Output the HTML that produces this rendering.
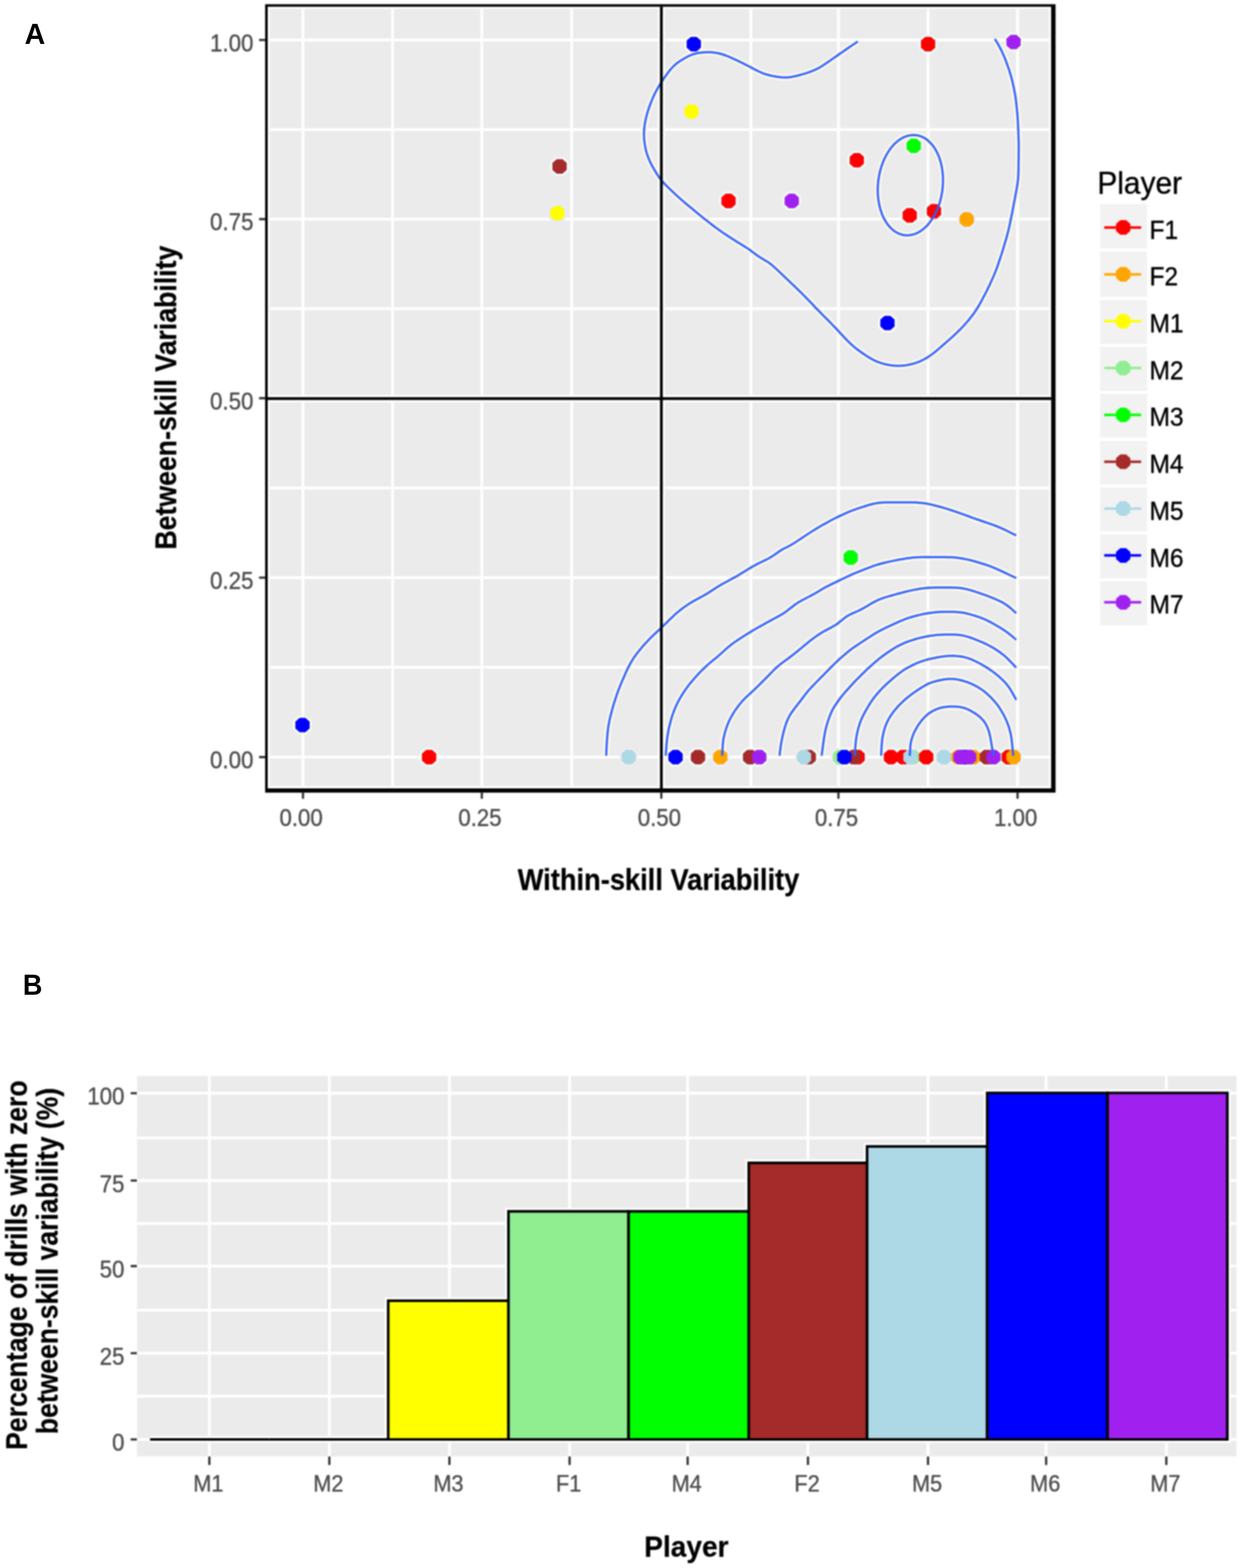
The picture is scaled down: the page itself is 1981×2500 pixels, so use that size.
<!DOCTYPE html>
<html lang="en">
<head>
<meta charset="utf-8">
<title>Figure</title>
<style>html,body{margin:0;padding:0;background:#fff;overflow:hidden}#fig{position:relative;width:1981px;height:2500px;overflow:hidden;background:#fff}#fig svg{display:block;position:absolute;left:0;top:0}#plot{filter:blur(0.9px)}</style>
</head>
<body>
<div id="fig">
<svg id="plot" width="1981" height="2500" viewBox="0 0 1981 2500">
<rect x="-20" y="-20" width="2021" height="2540" fill="#FFFFFF"/>
<g id="panelA">
<rect x="427.0" y="10.8" width="1249.6" height="1246.1" fill="#FFFFFF"/>
<rect x="430.4" y="14.2" width="1242.8" height="1239.0" fill="#EBEBEB"/>
<path d="M483.3 14.2V1253.2M626.1 14.2V1253.2M768.5 14.2V1253.2M911.8 14.2V1253.2M1054.8 14.2V1253.2M1197.7 14.2V1253.2M1337.3 14.2V1253.2M1480.2 14.2V1253.2M1623.0 14.2V1253.2M430.4 1207.1H1673.2M430.4 1063.9H1673.2M430.4 921.0H1673.2M430.4 778.0H1673.2M430.4 634.9H1673.2M430.4 492.2H1673.2M430.4 349.4H1673.2M430.4 206.6H1673.2M430.4 63.8H1673.2" stroke="#FFFFFF" stroke-width="4.4" fill="none"/>
<g fill="none" stroke-linejoin="round">
<polygon points="1102.0,58.8 1111.2,58.8 1118.0,64.8 1118.0,76.0 1111.2,82.0 1102.0,82.0 1095.2,76.0 1095.2,64.8" stroke="#FFFFE9" stroke-width="6.4"/>
<polygon points="1475.7,58.8 1484.9,58.8 1491.7,64.8 1491.7,76.0 1484.9,82.0 1475.7,82.0 1468.9,76.0 1468.9,64.8" stroke="#E9FFFF" stroke-width="6.4"/>
<polygon points="1612.0,55.4 1621.2,55.4 1628.0,61.4 1628.0,72.6 1621.2,78.6 1612.0,78.6 1605.2,72.6 1605.2,61.4" stroke="#F3FFEA" stroke-width="6.4"/>
<polygon points="1098.4,166.2 1107.6,166.2 1114.4,172.2 1114.4,183.4 1107.6,189.4 1098.4,189.4 1091.6,183.4 1091.6,172.2" stroke="#E9E9FF" stroke-width="6.4"/>
<polygon points="1452.8,220.9 1462.0,220.9 1468.8,226.9 1468.8,238.1 1462.0,244.1 1452.8,244.1 1446.0,238.1 1446.0,226.9" stroke="#FFE9FF" stroke-width="6.4"/>
<polygon points="1362.0,243.9 1371.2,243.9 1378.0,249.9 1378.0,261.1 1371.2,267.1 1362.0,267.1 1355.2,261.1 1355.2,249.9" stroke="#E9FFFF" stroke-width="6.4"/>
<polygon points="887.9,253.8 897.1,253.8 903.9,259.8 903.9,271.0 897.1,277.0 887.9,277.0 881.1,271.0 881.1,259.8" stroke="#F3FFFF" stroke-width="6.4"/>
<polygon points="884.4,328.3 893.6,328.3 900.4,334.3 900.4,345.5 893.6,351.5 884.4,351.5 877.6,345.5 877.6,334.3" stroke="#E9E9FF" stroke-width="6.4"/>
<polygon points="1157.4,308.8 1166.6,308.8 1173.4,314.8 1173.4,326.0 1166.6,332.0 1157.4,332.0 1150.6,326.0 1150.6,314.8" stroke="#E9FFFF" stroke-width="6.4"/>
<polygon points="1258.2,308.8 1267.4,308.8 1274.2,314.8 1274.2,326.0 1267.4,332.0 1258.2,332.0 1251.4,326.0 1251.4,314.8" stroke="#F3FFEA" stroke-width="6.4"/>
<polygon points="1446.4,331.7 1455.6,331.7 1462.4,337.7 1462.4,348.9 1455.6,354.9 1446.4,354.9 1439.6,348.9 1439.6,337.7" stroke="#E9FFFF" stroke-width="6.4"/>
<polygon points="1485.1,325.2 1494.3,325.2 1501.1,331.2 1501.1,342.4 1494.3,348.4 1485.1,348.4 1478.3,342.4 1478.3,331.2" stroke="#E9FFFF" stroke-width="6.4"/>
<polygon points="1537.3,338.3 1546.5,338.3 1553.3,344.3 1553.3,355.5 1546.5,361.5 1537.3,361.5 1530.5,355.5 1530.5,344.3" stroke="#E9F3FF" stroke-width="6.4"/>
<polygon points="1410.9,503.4 1420.1,503.4 1426.9,509.4 1426.9,520.6 1420.1,526.6 1410.9,526.6 1404.1,520.6 1404.1,509.4" stroke="#FFFFE9" stroke-width="6.4"/>
<polygon points="1352.3,877.2 1361.5,877.2 1368.3,883.2 1368.3,894.4 1361.5,900.4 1352.3,900.4 1345.5,894.4 1345.5,883.2" stroke="#FFE9FF" stroke-width="6.4"/>
<polygon points="477.9,1144.4 487.1,1144.4 493.9,1150.4 493.9,1161.6 487.1,1167.6 477.9,1167.6 471.1,1161.6 471.1,1150.4" stroke="#FFFFE9" stroke-width="6.4"/>
<polygon points="679.8,1195.5 689.0,1195.5 695.8,1201.5 695.8,1212.7 689.0,1218.7 679.8,1218.7 673.0,1212.7 673.0,1201.5" stroke="#E9FFFF" stroke-width="6.4"/>
<polygon points="998.2,1195.5 1007.4,1195.5 1014.2,1201.5 1014.2,1212.7 1007.4,1218.7 998.2,1218.7 991.4,1212.7 991.4,1201.5" stroke="#F2EDEC" stroke-width="6.4"/>
<polygon points="1072.9,1195.5 1082.1,1195.5 1088.9,1201.5 1088.9,1212.7 1082.1,1218.7 1072.9,1218.7 1066.1,1212.7 1066.1,1201.5" stroke="#FFFFE9" stroke-width="6.4"/>
<polygon points="1108.7,1195.5 1117.9,1195.5 1124.7,1201.5 1124.7,1212.7 1117.9,1218.7 1108.7,1218.7 1101.9,1212.7 1101.9,1201.5" stroke="#F3FFFF" stroke-width="6.4"/>
<polygon points="1144.3,1195.5 1153.5,1195.5 1160.3,1201.5 1160.3,1212.7 1153.5,1218.7 1144.3,1218.7 1137.5,1212.7 1137.5,1201.5" stroke="#E9F3FF" stroke-width="6.4"/>
<polygon points="1191.8,1195.5 1201.0,1195.5 1207.8,1201.5 1207.8,1212.7 1201.0,1218.7 1191.8,1218.7 1185.0,1212.7 1185.0,1201.5" stroke="#F3FFFF" stroke-width="6.4"/>
<polygon points="1206.4,1195.5 1215.6,1195.5 1222.4,1201.5 1222.4,1212.7 1215.6,1218.7 1206.4,1218.7 1199.6,1212.7 1199.6,1201.5" stroke="#F3FFEA" stroke-width="6.4"/>
<polygon points="1285.4,1195.5 1294.6,1195.5 1301.4,1201.5 1301.4,1212.7 1294.6,1218.7 1285.4,1218.7 1278.6,1212.7 1278.6,1201.5" stroke="#F3FFFF" stroke-width="6.4"/>
<polygon points="1277.8,1195.5 1287.0,1195.5 1293.8,1201.5 1293.8,1212.7 1287.0,1218.7 1277.8,1218.7 1271.0,1212.7 1271.0,1201.5" stroke="#F2EDEC" stroke-width="6.4"/>
<polygon points="1335.2,1195.5 1344.4,1195.5 1351.2,1201.5 1351.2,1212.7 1344.4,1218.7 1335.2,1218.7 1328.4,1212.7 1328.4,1201.5" stroke="#F5EBF5" stroke-width="6.4"/>
<polygon points="1363.3,1195.5 1372.5,1195.5 1379.3,1201.5 1379.3,1212.7 1372.5,1218.7 1363.3,1218.7 1356.5,1212.7 1356.5,1201.5" stroke="#E9FFFF" stroke-width="6.4"/>
<polygon points="1357.4,1195.5 1366.6,1195.5 1373.4,1201.5 1373.4,1212.7 1366.6,1218.7 1357.4,1218.7 1350.6,1212.7 1350.6,1201.5" stroke="#F3FFFF" stroke-width="6.4"/>
<polygon points="1342.2,1195.5 1351.4,1195.5 1358.2,1201.5 1358.2,1212.7 1351.4,1218.7 1342.2,1218.7 1335.4,1212.7 1335.4,1201.5" stroke="#FFFFE9" stroke-width="6.4"/>
<polygon points="1416.5,1195.5 1425.7,1195.5 1432.5,1201.5 1432.5,1212.7 1425.7,1218.7 1416.5,1218.7 1409.7,1212.7 1409.7,1201.5" stroke="#E9FFFF" stroke-width="6.4"/>
<polygon points="1435.9,1195.5 1445.1,1195.5 1451.9,1201.5 1451.9,1212.7 1445.1,1218.7 1435.9,1218.7 1429.1,1212.7 1429.1,1201.5" stroke="#E9FFFF" stroke-width="6.4"/>
<polygon points="1451.1,1195.5 1460.3,1195.5 1467.1,1201.5 1467.1,1212.7 1460.3,1218.7 1451.1,1218.7 1444.3,1212.7 1444.3,1201.5" stroke="#F5EBF5" stroke-width="6.4"/>
<polygon points="1447.6,1195.5 1456.8,1195.5 1463.6,1201.5 1463.6,1212.7 1456.8,1218.7 1447.6,1218.7 1440.8,1212.7 1440.8,1201.5" stroke="#F2EDEC" stroke-width="6.4"/>
<polygon points="1472.7,1195.5 1481.9,1195.5 1488.7,1201.5 1488.7,1212.7 1481.9,1218.7 1472.7,1218.7 1465.9,1212.7 1465.9,1201.5" stroke="#E9FFFF" stroke-width="6.4"/>
<polygon points="1501.0,1195.5 1510.2,1195.5 1517.0,1201.5 1517.0,1212.7 1510.2,1218.7 1501.0,1218.7 1494.2,1212.7 1494.2,1201.5" stroke="#F2EDEC" stroke-width="6.4"/>
<polygon points="1524.0,1195.5 1533.2,1195.5 1540.0,1201.5 1540.0,1212.7 1533.2,1218.7 1524.0,1218.7 1517.2,1212.7 1517.2,1201.5" stroke="#E9F3FF" stroke-width="6.4"/>
<polygon points="1534.3,1195.5 1543.5,1195.5 1550.3,1201.5 1550.3,1212.7 1543.5,1218.7 1534.3,1218.7 1527.5,1212.7 1527.5,1201.5" stroke="#FFFFE9" stroke-width="6.4"/>
<polygon points="1547.8,1195.5 1557.0,1195.5 1563.8,1201.5 1563.8,1212.7 1557.0,1218.7 1547.8,1218.7 1541.0,1212.7 1541.0,1201.5" stroke="#E9F3FF" stroke-width="6.4"/>
<polygon points="1527.3,1195.5 1536.5,1195.5 1543.3,1201.5 1543.3,1212.7 1536.5,1218.7 1527.3,1218.7 1520.5,1212.7 1520.5,1201.5" stroke="#F3FFEA" stroke-width="6.4"/>
<polygon points="1541.3,1195.5 1550.5,1195.5 1557.3,1201.5 1557.3,1212.7 1550.5,1218.7 1541.3,1218.7 1534.5,1212.7 1534.5,1201.5" stroke="#F3FFEA" stroke-width="6.4"/>
<polygon points="1569.4,1195.5 1578.6,1195.5 1585.4,1201.5 1585.4,1212.7 1578.6,1218.7 1569.4,1218.7 1562.6,1212.7 1562.6,1201.5" stroke="#F3FFFF" stroke-width="6.4"/>
<polygon points="1579.9,1195.5 1589.1,1195.5 1595.9,1201.5 1595.9,1212.7 1589.1,1218.7 1579.9,1218.7 1573.1,1212.7 1573.1,1201.5" stroke="#F3FFEA" stroke-width="6.4"/>
<polygon points="1603.4,1195.5 1612.6,1195.5 1619.4,1201.5 1619.4,1212.7 1612.6,1218.7 1603.4,1218.7 1596.6,1212.7 1596.6,1201.5" stroke="#F5EBF5" stroke-width="6.4"/>
<polygon points="1604.5,1195.5 1613.7,1195.5 1620.5,1201.5 1620.5,1212.7 1613.7,1218.7 1604.5,1218.7 1597.7,1212.7 1597.7,1201.5" stroke="#E9FFFF" stroke-width="6.4"/>
<polygon points="1612.0,1195.5 1621.2,1195.5 1628.0,1201.5 1628.0,1212.7 1621.2,1218.7 1612.0,1218.7 1605.2,1212.7 1605.2,1201.5" stroke="#E9F3FF" stroke-width="6.4"/>
<path d="M1368.1 66.2L1363.1 69.6L1358.1 72.9L1353.2 76.3L1348.2 79.7L1343.3 83.1L1338.4 86.5L1333.5 90.0L1328.6 93.4L1323.6 96.9L1318.7 100.3L1313.7 103.6L1308.7 106.8L1303.5 109.7L1298.1 112.2L1292.5 114.3L1286.9 116.3L1281.1 118.1L1275.4 119.7L1269.6 121.2L1263.7 122.4L1257.9 123.3L1252.0 123.6L1246.1 123.3L1240.2 122.6L1234.3 121.6L1228.4 120.3L1222.6 118.8L1217.0 116.9L1211.5 114.5L1206.2 111.9L1200.9 109.1L1195.6 106.3L1190.2 103.6L1184.9 100.9L1179.5 98.2L1174.1 95.7L1168.6 93.1L1163.1 90.7L1157.6 88.5L1151.9 86.5L1146.2 85.0L1140.4 83.9L1134.5 83.3L1128.5 83.2L1122.6 83.4L1116.6 84.0L1110.8 85.0L1105.1 86.6L1099.7 88.8L1094.5 91.5L1089.3 94.5L1084.3 97.6L1079.4 101.0L1075.0 104.9L1070.9 109.1L1067.1 113.7L1063.5 118.5L1060.0 123.4L1056.7 128.4L1053.4 133.4L1050.3 138.5L1047.3 143.7L1044.5 149.0L1042.0 154.4L1039.7 159.9L1037.5 165.5L1035.4 171.1L1033.5 176.8L1031.8 182.6L1030.3 188.3L1029.1 194.2L1028.1 200.1L1027.5 206.0L1027.1 212.0L1027.2 217.9L1027.6 223.9L1028.4 229.8L1029.4 235.7L1030.7 241.5L1032.5 247.2L1034.6 252.8L1037.0 258.2L1039.7 263.6L1042.6 268.8L1045.7 274.0L1048.8 279.1L1052.3 284.0L1056.0 288.6L1060.0 293.0L1064.2 297.3L1068.5 301.5L1072.8 305.6L1077.2 309.7L1081.6 313.8L1086.1 317.8L1090.6 321.7L1095.2 325.6L1099.8 329.4L1104.5 333.2L1109.1 337.1L1113.7 340.9L1118.3 344.7L1123.0 348.5L1127.7 352.2L1132.5 355.9L1137.2 359.5L1142.0 363.1L1146.9 366.6L1151.8 370.1L1156.8 373.5L1161.8 376.8L1166.8 380.0L1171.9 383.2L1177.0 386.4L1182.1 389.5L1187.2 392.7L1192.2 395.9L1197.1 399.4L1201.9 402.9L1206.7 406.5L1211.6 409.8L1216.7 412.9L1221.8 415.9L1226.7 419.1L1231.4 422.7L1235.9 426.7L1240.3 430.7L1244.7 434.9L1249.0 439.0L1253.4 443.2L1257.7 447.3L1262.0 451.4L1266.4 455.6L1270.7 459.8L1275.0 463.9L1279.3 468.1L1283.5 472.4L1287.7 476.7L1291.9 481.0L1296.0 485.3L1300.1 489.7L1304.3 494.0L1308.5 498.3L1312.7 502.6L1316.9 506.8L1321.2 511.1L1325.4 515.4L1329.6 519.7L1333.7 524.0L1337.8 528.4L1341.9 532.8L1346.0 537.2L1350.1 541.5L1354.3 545.8L1358.7 549.9L1363.2 553.8L1367.9 557.5L1372.8 561.0L1377.7 564.5L1382.7 567.7L1387.8 570.9L1393.0 573.8L1398.4 576.3L1403.9 578.4L1409.6 580.1L1415.4 581.5L1421.3 582.5L1427.2 583.1L1433.2 583.3L1439.1 583.0L1445.0 582.4L1450.9 581.3L1456.7 579.9L1462.4 578.1L1467.9 575.9L1473.2 573.3L1478.4 570.4L1483.4 567.1L1488.3 563.6L1492.9 559.9L1497.5 556.0L1502.0 552.1L1506.5 548.1L1511.0 544.2L1515.5 540.2L1520.0 536.2L1524.4 532.1L1528.7 527.9L1532.9 523.7L1537.1 519.4L1541.1 514.9L1545.0 510.4L1548.7 505.7L1552.4 500.9L1555.8 496.0L1559.0 491.0L1562.1 485.8L1565.0 480.6L1567.8 475.3L1570.6 470.0L1573.4 464.7L1576.0 459.3L1578.6 453.9L1581.1 448.4L1583.6 442.9L1586.0 437.4L1588.2 431.9L1590.3 426.3L1592.3 420.6L1594.2 414.9L1596.1 409.2L1598.0 403.5L1599.8 397.8L1601.5 392.1L1603.2 386.3L1604.9 380.5L1606.5 374.7L1608.0 368.9L1609.4 363.1L1610.7 357.3L1611.9 351.4L1613.1 345.5L1614.3 339.6L1615.5 333.7L1616.6 327.8L1617.7 321.9L1618.8 316.0L1619.9 310.1L1621.0 304.2L1622.0 298.3L1623.0 292.4L1623.7 286.5L1624.2 280.5L1624.4 274.5L1624.6 268.5L1624.6 262.5L1624.7 256.5L1624.8 250.5L1624.8 244.5L1624.9 238.5L1624.9 232.5L1624.8 226.5L1624.6 220.5L1624.4 214.5L1624.2 208.5L1623.9 202.6L1623.7 196.6L1623.3 190.6L1622.9 184.6L1622.4 178.6L1621.8 172.6L1621.2 166.7L1620.5 160.7L1619.7 154.8L1618.7 148.9L1617.6 143.0L1616.4 137.1L1615.1 131.2L1613.7 125.4L1612.0 119.6L1610.3 113.9L1608.4 108.2L1606.4 102.6L1604.3 96.9L1602.1 91.4L1599.7 85.9L1597.2 80.4L1594.5 75.1L1591.6 69.9L1588.5 64.8L1586.9 62.2 M1460.7 215.5L1457.4 215.3L1454.0 215.4L1450.6 215.9L1447.2 216.7L1443.8 217.9L1440.4 219.4L1437.1 221.2L1433.9 223.4L1430.8 225.8L1427.7 228.6L1424.7 231.6L1421.9 234.9L1419.2 238.4L1416.6 242.3L1414.2 246.3L1412.0 250.5L1409.9 255.0L1408.0 259.6L1406.3 264.3L1404.7 269.2L1403.4 274.2L1402.3 279.3L1401.4 284.4L1400.7 289.7L1400.3 294.9L1400.0 300.1L1400.0 305.3L1400.2 310.5L1400.7 315.6L1401.3 320.6L1402.2 325.5L1403.3 330.3L1404.6 334.9L1406.1 339.4L1407.7 343.6L1409.6 347.7L1411.7 351.5L1413.9 355.1L1416.3 358.5L1418.9 361.5L1421.6 364.3L1424.4 366.8L1427.3 369.0L1430.4 370.8L1433.5 372.4L1436.7 373.6L1440.0 374.5L1443.4 375.0L1446.7 375.2L1450.1 375.1L1453.5 374.6L1456.9 373.7L1460.3 372.6L1463.7 371.1L1467.0 369.3L1470.2 367.1L1473.3 364.7L1476.4 361.9L1479.4 358.9L1482.2 355.6L1484.9 352.0L1487.5 348.2L1489.9 344.2L1492.2 340.0L1494.2 335.5L1496.1 330.9L1497.9 326.2L1499.4 321.3L1500.7 316.3L1501.8 311.2L1502.7 306.0L1503.4 300.8L1503.8 295.6L1504.1 290.4L1504.1 285.2L1503.9 280.0L1503.4 274.9L1502.8 269.9L1501.9 265.0L1500.8 260.2L1499.5 255.6L1498.1 251.1L1496.4 246.9L1494.5 242.8L1492.4 239.0L1490.2 235.4L1487.8 232.0L1485.2 229.0L1482.5 226.2L1479.7 223.7L1476.8 221.5L1473.7 219.6L1470.6 218.1L1467.4 216.9L1464.1 216.0L1460.7 215.5 M966.9 1205.0L967.2 1199.0L967.4 1193.0L967.7 1187.0L968.1 1181.0L968.5 1175.0L969.1 1169.0L969.7 1163.0L970.5 1157.1L971.6 1151.2L972.8 1145.3L974.3 1139.5L975.8 1133.7L977.4 1127.9L979.1 1122.1L980.9 1116.4L982.8 1110.7L984.7 1105.0L986.8 1099.4L989.0 1093.8L991.3 1088.2L993.7 1082.7L996.1 1077.2L998.5 1071.7L1001.1 1066.3L1003.8 1060.9L1006.7 1055.7L1009.8 1050.6L1013.2 1045.6L1016.7 1040.8L1020.5 1036.1L1024.3 1031.5L1028.3 1027.0L1032.4 1022.6L1036.5 1018.3L1040.8 1014.0L1045.2 1009.9L1049.6 1005.8L1054.0 1001.7L1058.3 997.6L1062.6 993.4L1066.9 989.1L1071.2 984.9L1075.5 980.8L1080.0 976.8L1084.6 973.0L1089.4 969.4L1094.3 965.9L1099.3 962.6L1104.4 959.4L1109.6 956.5L1114.9 953.6L1120.2 950.8L1125.4 947.9L1130.5 944.8L1135.5 941.5L1140.5 938.2L1145.6 935.0L1150.8 931.9L1156.1 929.0L1161.3 926.2L1166.6 923.3L1171.9 920.4L1177.1 917.4L1182.2 914.3L1187.4 911.2L1192.5 908.0L1197.6 904.9L1202.9 902.0L1208.1 899.1L1213.5 896.5L1218.9 893.9L1224.3 891.2L1229.5 888.3L1234.5 885.1L1239.3 881.7L1244.2 878.3L1249.2 875.3L1254.4 872.7L1259.7 870.0L1264.8 867.1L1269.8 863.9L1274.8 860.6L1279.8 857.2L1284.9 853.9L1289.9 850.6L1294.9 847.4L1300.0 844.2L1305.1 841.0L1310.3 838.0L1315.6 835.1L1320.8 832.2L1326.1 829.3L1331.5 826.5L1336.8 823.9L1342.3 821.3L1347.7 818.8L1353.2 816.4L1358.8 814.2L1364.4 812.1L1370.1 810.2L1375.8 808.3L1381.6 806.5L1387.3 804.7L1393.1 803.2L1398.9 802.1L1404.8 801.4L1410.8 801.1L1416.8 801.0L1422.8 801.0L1428.8 801.0L1434.8 801.0L1440.8 801.0L1446.8 801.0L1452.8 801.0L1458.8 801.1L1464.8 801.4L1470.8 802.0L1476.7 802.8L1482.6 803.9L1488.5 805.2L1494.3 806.7L1500.1 808.3L1505.8 809.9L1511.6 811.7L1517.3 813.5L1523.0 815.4L1528.7 817.4L1534.4 819.4L1540.0 821.4L1545.7 823.5L1551.3 825.6L1557.0 827.6L1562.7 829.5L1568.3 831.5L1574.0 833.4L1579.7 835.3L1585.4 837.3L1591.0 839.5L1596.5 841.8L1602.0 844.3L1607.4 847.0L1612.7 849.7L1618.1 852.4L1620.8 853.7 M1061.8 1205.0L1062.2 1199.0L1062.7 1193.0L1063.1 1187.0L1063.7 1181.0L1064.4 1175.0L1065.4 1169.1L1066.5 1163.2L1067.8 1157.3L1069.3 1151.5L1070.8 1145.7L1072.6 1140.0L1074.7 1134.3L1076.9 1128.7L1079.4 1123.3L1082.1 1117.9L1085.0 1112.7L1088.1 1107.5L1091.4 1102.5L1094.8 1097.5L1098.3 1092.7L1102.1 1088.0L1106.0 1083.4L1110.0 1078.9L1114.0 1074.5L1118.2 1070.1L1122.5 1065.9L1126.8 1061.7L1131.3 1057.8L1136.0 1053.9L1140.6 1050.1L1145.3 1046.3L1149.8 1042.3L1154.2 1038.3L1158.6 1034.2L1163.2 1030.3L1167.9 1026.6L1172.8 1023.1L1177.8 1019.7L1182.8 1016.5L1187.9 1013.2L1193.0 1010.0L1198.1 1006.9L1203.3 1003.8L1208.5 1000.8L1213.8 997.9L1219.0 994.9L1224.3 992.0L1229.6 989.1L1234.9 986.2L1240.2 983.4L1245.4 980.5L1250.5 977.4L1255.4 973.9L1260.1 970.2L1264.8 966.5L1269.6 962.9L1274.6 959.7L1279.8 956.7L1285.2 954.0L1290.5 951.2L1295.8 948.4L1301.1 945.4L1306.2 942.4L1311.4 939.3L1316.7 936.3L1322.0 933.6L1327.4 930.9L1332.8 928.3L1338.3 925.7L1343.7 923.1L1349.1 920.5L1354.5 917.9L1360.0 915.4L1365.5 913.1L1371.1 910.8L1376.7 908.6L1382.4 906.4L1388.0 904.3L1393.6 902.2L1399.3 900.3L1405.1 898.7L1410.9 897.2L1416.8 895.9L1422.7 894.6L1428.6 893.4L1434.5 892.3L1440.4 891.2L1446.4 890.2L1452.3 889.4L1458.3 888.8L1464.3 888.5L1470.3 888.3L1476.3 888.3L1482.3 888.3L1488.3 888.3L1494.4 888.3L1500.4 888.3L1506.4 888.3L1512.4 888.4L1518.4 888.6L1524.4 889.1L1530.4 889.8L1536.3 890.8L1542.2 891.9L1548.1 893.3L1553.9 894.8L1559.7 896.5L1565.4 898.2L1571.2 900.0L1576.9 901.9L1582.5 904.1L1588.0 906.4L1593.5 908.8L1599.0 911.4L1604.4 913.9L1609.9 916.5L1615.3 919.0L1620.8 921.6 M1151.9 1205.0L1152.2 1199.0L1152.5 1193.0L1152.9 1187.0L1153.5 1181.0L1154.5 1175.1L1155.9 1169.3L1157.6 1163.5L1159.5 1157.9L1161.7 1152.3L1164.3 1146.8L1167.1 1141.5L1170.1 1136.4L1173.4 1131.4L1177.0 1126.5L1180.6 1121.8L1184.6 1117.2L1188.7 1112.9L1193.1 1108.8L1197.6 1104.8L1202.0 1100.7L1206.3 1096.5L1210.7 1092.3L1214.9 1088.1L1219.2 1083.8L1223.4 1079.5L1227.6 1075.2L1231.8 1070.9L1236.0 1066.6L1240.4 1062.5L1245.1 1058.7L1249.9 1055.1L1254.7 1051.6L1259.6 1048.0L1264.3 1044.4L1269.1 1040.6L1273.7 1036.8L1278.4 1033.0L1283.0 1029.1L1287.6 1025.3L1292.3 1021.5L1297.1 1017.8L1302.0 1014.3L1307.0 1011.0L1312.1 1007.8L1317.3 1004.9L1322.6 1002.1L1327.9 999.3L1333.0 996.3L1337.8 992.9L1342.4 989.1L1347.0 985.4L1351.8 982.0L1357.0 979.2L1362.4 976.9L1367.8 974.5L1373.2 971.9L1378.4 969.0L1383.6 965.9L1388.8 962.8L1394.0 959.9L1399.3 957.2L1404.8 954.9L1410.5 952.9L1416.2 951.1L1422.0 949.5L1427.8 947.9L1433.6 946.3L1439.5 944.7L1445.3 943.3L1451.2 941.9L1457.1 940.6L1463.0 939.5L1468.9 938.6L1474.9 937.8L1480.9 937.3L1486.9 937.0L1492.9 936.8L1498.9 936.8L1504.9 936.8L1511.0 936.8L1517.0 936.8L1523.0 936.9L1529.0 937.3L1534.9 938.0L1540.7 939.1L1546.5 940.6L1552.3 942.3L1558.0 944.2L1563.7 946.1L1569.4 948.2L1575.1 950.2L1580.7 952.3L1586.3 954.6L1591.8 957.0L1597.2 959.6L1602.3 962.6L1607.3 966.0L1612.0 969.7L1616.5 973.7L1620.8 977.8 M1243.3 1205.0L1244.0 1199.0L1244.8 1193.1L1245.6 1187.2L1246.7 1181.3L1247.9 1175.4L1249.2 1169.5L1250.7 1163.7L1252.4 1158.0L1254.3 1152.3L1256.6 1146.8L1259.2 1141.5L1262.3 1136.4L1265.8 1131.6L1269.4 1126.8L1273.1 1122.1L1276.8 1117.4L1280.4 1112.6L1284.0 1107.8L1287.7 1103.1L1291.6 1098.6L1295.7 1094.2L1299.9 1089.9L1304.1 1085.6L1308.3 1081.3L1312.6 1077.1L1316.8 1072.8L1321.0 1068.5L1325.1 1064.2L1329.4 1059.9L1333.7 1055.7L1338.1 1051.6L1342.5 1047.7L1347.1 1043.8L1351.7 1039.9L1356.4 1036.2L1361.2 1032.6L1366.2 1029.2L1371.2 1025.9L1376.2 1022.6L1381.2 1019.3L1386.2 1016.1L1391.3 1012.8L1396.3 1009.6L1401.5 1006.7L1406.8 1003.9L1412.2 1001.2L1417.7 998.7L1423.1 996.2L1428.6 993.7L1434.0 991.2L1439.5 988.8L1445.1 986.7L1450.8 984.7L1456.5 983.0L1462.3 981.5L1468.1 980.1L1474.0 978.8L1479.9 977.8L1485.8 976.9L1491.8 976.3L1497.8 975.8L1503.7 975.6L1509.7 975.5L1515.7 975.5L1521.7 975.6L1527.7 975.9L1533.6 976.5L1539.5 977.5L1545.3 978.9L1551.0 980.6L1556.8 982.3L1562.4 984.2L1568.0 986.3L1573.5 988.7L1578.8 991.4L1584.1 994.2L1589.3 997.2L1594.5 1000.3L1599.6 1003.5L1604.5 1006.8L1609.3 1010.4L1614.0 1014.1L1618.5 1018.0L1620.8 1020.0 M1310.5 1205.0L1311.3 1199.0L1312.1 1193.0L1312.9 1187.1L1313.7 1181.1L1314.6 1175.1L1315.6 1169.2L1316.8 1163.3L1318.3 1157.5L1320.0 1151.7L1321.9 1146.0L1324.0 1140.4L1326.3 1134.9L1329.1 1129.5L1332.2 1124.4L1335.6 1119.4L1339.1 1114.6L1342.8 1109.8L1346.7 1105.2L1350.6 1100.7L1354.7 1096.2L1358.7 1091.7L1362.8 1087.3L1367.0 1082.9L1371.2 1078.7L1375.5 1074.4L1379.9 1070.2L1384.2 1066.1L1388.7 1062.0L1393.2 1058.0L1397.7 1054.1L1402.4 1050.2L1407.2 1046.5L1412.0 1043.0L1417.0 1039.5L1422.0 1036.2L1427.1 1033.1L1432.3 1030.1L1437.7 1027.4L1443.2 1024.9L1448.8 1022.7L1454.5 1020.8L1460.2 1019.0L1466.0 1017.4L1471.9 1016.0L1477.8 1014.8L1483.7 1013.8L1489.7 1012.9L1495.6 1012.2L1501.6 1011.9L1507.7 1011.8L1513.7 1011.7L1519.7 1011.8L1525.7 1012.0L1531.6 1012.5L1537.5 1013.6L1543.3 1015.1L1549.0 1017.0L1554.6 1019.1L1560.2 1021.3L1565.8 1023.6L1571.2 1026.1L1576.6 1028.8L1581.9 1031.6L1587.1 1034.7L1592.1 1038.0L1597.0 1041.5L1601.7 1045.2L1606.2 1049.2L1610.4 1053.5L1614.6 1057.8L1618.7 1062.2L1620.8 1064.4 M1363.2 1205.0L1363.7 1199.0L1364.1 1193.0L1364.6 1186.9L1365.2 1180.9L1366.0 1175.0L1367.1 1169.1L1368.5 1163.2L1370.1 1157.4L1372.0 1151.7L1374.2 1146.1L1376.8 1140.7L1379.6 1135.4L1382.6 1130.2L1385.6 1125.0L1388.8 1119.8L1392.2 1114.9L1395.8 1110.1L1399.7 1105.5L1403.7 1101.0L1407.9 1096.6L1412.2 1092.4L1416.6 1088.3L1421.2 1084.4L1425.7 1080.4L1430.4 1076.6L1435.1 1072.8L1440.0 1069.3L1445.0 1066.1L1450.3 1063.2L1455.6 1060.4L1461.1 1057.9L1466.6 1055.6L1472.3 1053.6L1478.1 1051.9L1483.9 1050.5L1489.8 1049.2L1495.7 1048.0L1501.7 1047.0L1507.6 1046.2L1513.6 1045.7L1519.6 1045.5L1525.6 1045.9L1531.5 1046.6L1537.4 1047.6L1543.2 1049.1L1548.8 1051.1L1554.3 1053.5L1559.7 1056.2L1565.0 1059.0L1570.2 1062.1L1575.3 1065.3L1580.3 1068.7L1585.2 1072.2L1589.9 1075.9L1594.5 1079.7L1598.9 1083.8L1603.1 1088.1L1607.0 1092.7L1610.5 1097.6L1613.6 1102.7L1616.5 1107.9L1619.4 1113.2L1620.8 1115.9 M1405.4 1205.0L1405.7 1199.0L1406.0 1192.9L1406.4 1186.9L1406.9 1180.9L1407.8 1175.0L1409.0 1169.1L1410.5 1163.3L1412.3 1157.6L1414.6 1152.0L1417.3 1146.7L1420.4 1141.5L1423.8 1136.6L1427.5 1131.8L1431.4 1127.3L1435.5 1122.9L1439.9 1118.7L1444.3 1114.6L1449.0 1110.8L1453.8 1107.1L1458.7 1103.6L1463.7 1100.3L1468.7 1097.0L1473.9 1093.8L1479.1 1090.9L1484.5 1088.6L1490.2 1086.7L1496.0 1085.3L1501.9 1084.0L1507.8 1083.1L1513.7 1082.5L1519.6 1082.5L1525.5 1083.1L1531.4 1084.3L1537.2 1085.8L1542.9 1087.7L1548.5 1089.9L1553.9 1092.4L1559.2 1095.3L1564.3 1098.4L1569.2 1101.9L1573.8 1105.7L1578.2 1109.8L1582.5 1114.1L1586.5 1118.5L1590.3 1123.1L1593.8 1128.0L1597.0 1133.1L1600.0 1138.3L1602.8 1143.6L1605.3 1149.1L1607.5 1154.7L1609.5 1160.4L1611.1 1166.2L1612.4 1172.0L1613.4 1178.0L1614.1 1184.0L1614.7 1190.0L1615.3 1196.0L1615.9 1202.0L1616.2 1205.0 M1451.1 1205.0L1451.4 1199.0L1451.8 1193.0L1452.3 1187.0L1453.4 1181.2L1455.0 1175.5L1457.1 1170.0L1459.7 1164.6L1462.6 1159.3L1465.9 1154.3L1469.4 1149.5L1473.3 1145.0L1477.4 1140.8L1482.0 1137.2L1487.0 1134.0L1492.3 1131.4L1497.8 1129.2L1503.5 1127.7L1509.3 1126.9L1515.3 1126.6L1521.3 1126.6L1527.2 1126.8L1533.1 1127.6L1538.7 1129.0L1544.2 1131.2L1549.4 1133.9L1554.6 1137.0L1559.5 1140.4L1564.1 1144.2L1568.1 1148.4L1571.6 1153.1L1574.3 1158.2L1576.5 1163.8L1578.2 1169.5L1579.5 1175.3L1580.6 1181.2L1581.6 1187.2L1582.6 1193.1L1583.6 1199.0L1584.5 1205.0" stroke="#FFFAE9" stroke-width="9.6"/>
<path d="M1054.9 10.8V1256.9M427.0 635.5H1676.6" stroke="#FFFFFF" stroke-width="11.4"/>
</g>
<polygon points="1102.0,58.8 1111.2,58.8 1118.0,64.8 1118.0,76.0 1111.2,82.0 1102.0,82.0 1095.2,76.0 1095.2,64.8" fill="#0000FF"/>
<polygon points="1475.7,58.8 1484.9,58.8 1491.7,64.8 1491.7,76.0 1484.9,82.0 1475.7,82.0 1468.9,76.0 1468.9,64.8" fill="#FF0000"/>
<polygon points="1612.0,55.4 1621.2,55.4 1628.0,61.4 1628.0,72.6 1621.2,78.6 1612.0,78.6 1605.2,72.6 1605.2,61.4" fill="#A020F0"/>
<polygon points="1098.4,166.2 1107.6,166.2 1114.4,172.2 1114.4,183.4 1107.6,189.4 1098.4,189.4 1091.6,183.4 1091.6,172.2" fill="#FFFF00"/>
<polygon points="1452.8,220.9 1462.0,220.9 1468.8,226.9 1468.8,238.1 1462.0,244.1 1452.8,244.1 1446.0,238.1 1446.0,226.9" fill="#00FF00"/>
<polygon points="1362.0,243.9 1371.2,243.9 1378.0,249.9 1378.0,261.1 1371.2,267.1 1362.0,267.1 1355.2,261.1 1355.2,249.9" fill="#FF0000"/>
<polygon points="887.9,253.8 897.1,253.8 903.9,259.8 903.9,271.0 897.1,277.0 887.9,277.0 881.1,271.0 881.1,259.8" fill="#A52A2A"/>
<polygon points="884.4,328.3 893.6,328.3 900.4,334.3 900.4,345.5 893.6,351.5 884.4,351.5 877.6,345.5 877.6,334.3" fill="#FFFF00"/>
<polygon points="1157.4,308.8 1166.6,308.8 1173.4,314.8 1173.4,326.0 1166.6,332.0 1157.4,332.0 1150.6,326.0 1150.6,314.8" fill="#FF0000"/>
<polygon points="1258.2,308.8 1267.4,308.8 1274.2,314.8 1274.2,326.0 1267.4,332.0 1258.2,332.0 1251.4,326.0 1251.4,314.8" fill="#A020F0"/>
<polygon points="1446.4,331.7 1455.6,331.7 1462.4,337.7 1462.4,348.9 1455.6,354.9 1446.4,354.9 1439.6,348.9 1439.6,337.7" fill="#FF0000"/>
<polygon points="1485.1,325.2 1494.3,325.2 1501.1,331.2 1501.1,342.4 1494.3,348.4 1485.1,348.4 1478.3,342.4 1478.3,331.2" fill="#FF0000"/>
<polygon points="1537.3,338.3 1546.5,338.3 1553.3,344.3 1553.3,355.5 1546.5,361.5 1537.3,361.5 1530.5,355.5 1530.5,344.3" fill="#FFA500"/>
<polygon points="1410.9,503.4 1420.1,503.4 1426.9,509.4 1426.9,520.6 1420.1,526.6 1410.9,526.6 1404.1,520.6 1404.1,509.4" fill="#0000FF"/>
<polygon points="1352.3,877.2 1361.5,877.2 1368.3,883.2 1368.3,894.4 1361.5,900.4 1352.3,900.4 1345.5,894.4 1345.5,883.2" fill="#00FF00"/>
<polygon points="477.9,1144.4 487.1,1144.4 493.9,1150.4 493.9,1161.6 487.1,1167.6 477.9,1167.6 471.1,1161.6 471.1,1150.4" fill="#0000FF"/>
<polygon points="679.8,1195.5 689.0,1195.5 695.8,1201.5 695.8,1212.7 689.0,1218.7 679.8,1218.7 673.0,1212.7 673.0,1201.5" fill="#FF0000"/>
<polygon points="998.2,1195.5 1007.4,1195.5 1014.2,1201.5 1014.2,1212.7 1007.4,1218.7 998.2,1218.7 991.4,1212.7 991.4,1201.5" fill="#ADD8E6"/>
<polygon points="1072.9,1195.5 1082.1,1195.5 1088.9,1201.5 1088.9,1212.7 1082.1,1218.7 1072.9,1218.7 1066.1,1212.7 1066.1,1201.5" fill="#0000FF"/>
<polygon points="1108.7,1195.5 1117.9,1195.5 1124.7,1201.5 1124.7,1212.7 1117.9,1218.7 1108.7,1218.7 1101.9,1212.7 1101.9,1201.5" fill="#A52A2A"/>
<polygon points="1144.3,1195.5 1153.5,1195.5 1160.3,1201.5 1160.3,1212.7 1153.5,1218.7 1144.3,1218.7 1137.5,1212.7 1137.5,1201.5" fill="#FFA500"/>
<polygon points="1191.8,1195.5 1201.0,1195.5 1207.8,1201.5 1207.8,1212.7 1201.0,1218.7 1191.8,1218.7 1185.0,1212.7 1185.0,1201.5" fill="#A52A2A"/>
<polygon points="1206.4,1195.5 1215.6,1195.5 1222.4,1201.5 1222.4,1212.7 1215.6,1218.7 1206.4,1218.7 1199.6,1212.7 1199.6,1201.5" fill="#A020F0"/>
<polygon points="1285.4,1195.5 1294.6,1195.5 1301.4,1201.5 1301.4,1212.7 1294.6,1218.7 1285.4,1218.7 1278.6,1212.7 1278.6,1201.5" fill="#A52A2A"/>
<polygon points="1277.8,1195.5 1287.0,1195.5 1293.8,1201.5 1293.8,1212.7 1287.0,1218.7 1277.8,1218.7 1271.0,1212.7 1271.0,1201.5" fill="#ADD8E6"/>
<polygon points="1335.2,1195.5 1344.4,1195.5 1351.2,1201.5 1351.2,1212.7 1344.4,1218.7 1335.2,1218.7 1328.4,1212.7 1328.4,1201.5" fill="#90EE90"/>
<polygon points="1363.3,1195.5 1372.5,1195.5 1379.3,1201.5 1379.3,1212.7 1372.5,1218.7 1363.3,1218.7 1356.5,1212.7 1356.5,1201.5" fill="#FF0000"/>
<polygon points="1357.4,1195.5 1366.6,1195.5 1373.4,1201.5 1373.4,1212.7 1366.6,1218.7 1357.4,1218.7 1350.6,1212.7 1350.6,1201.5" fill="#A52A2A"/>
<polygon points="1342.2,1195.5 1351.4,1195.5 1358.2,1201.5 1358.2,1212.7 1351.4,1218.7 1342.2,1218.7 1335.4,1212.7 1335.4,1201.5" fill="#0000FF"/>
<polygon points="1416.5,1195.5 1425.7,1195.5 1432.5,1201.5 1432.5,1212.7 1425.7,1218.7 1416.5,1218.7 1409.7,1212.7 1409.7,1201.5" fill="#FF0000"/>
<polygon points="1435.9,1195.5 1445.1,1195.5 1451.9,1201.5 1451.9,1212.7 1445.1,1218.7 1435.9,1218.7 1429.1,1212.7 1429.1,1201.5" fill="#FF0000"/>
<polygon points="1451.1,1195.5 1460.3,1195.5 1467.1,1201.5 1467.1,1212.7 1460.3,1218.7 1451.1,1218.7 1444.3,1212.7 1444.3,1201.5" fill="#90EE90"/>
<polygon points="1447.6,1195.5 1456.8,1195.5 1463.6,1201.5 1463.6,1212.7 1456.8,1218.7 1447.6,1218.7 1440.8,1212.7 1440.8,1201.5" fill="#ADD8E6"/>
<polygon points="1472.7,1195.5 1481.9,1195.5 1488.7,1201.5 1488.7,1212.7 1481.9,1218.7 1472.7,1218.7 1465.9,1212.7 1465.9,1201.5" fill="#FF0000"/>
<polygon points="1501.0,1195.5 1510.2,1195.5 1517.0,1201.5 1517.0,1212.7 1510.2,1218.7 1501.0,1218.7 1494.2,1212.7 1494.2,1201.5" fill="#ADD8E6"/>
<polygon points="1524.0,1195.5 1533.2,1195.5 1540.0,1201.5 1540.0,1212.7 1533.2,1218.7 1524.0,1218.7 1517.2,1212.7 1517.2,1201.5" fill="#FFA500"/>
<polygon points="1534.3,1195.5 1543.5,1195.5 1550.3,1201.5 1550.3,1212.7 1543.5,1218.7 1534.3,1218.7 1527.5,1212.7 1527.5,1201.5" fill="#0000FF"/>
<polygon points="1547.8,1195.5 1557.0,1195.5 1563.8,1201.5 1563.8,1212.7 1557.0,1218.7 1547.8,1218.7 1541.0,1212.7 1541.0,1201.5" fill="#FFA500"/>
<polygon points="1527.3,1195.5 1536.5,1195.5 1543.3,1201.5 1543.3,1212.7 1536.5,1218.7 1527.3,1218.7 1520.5,1212.7 1520.5,1201.5" fill="#A020F0"/>
<polygon points="1541.3,1195.5 1550.5,1195.5 1557.3,1201.5 1557.3,1212.7 1550.5,1218.7 1541.3,1218.7 1534.5,1212.7 1534.5,1201.5" fill="#A020F0"/>
<polygon points="1569.4,1195.5 1578.6,1195.5 1585.4,1201.5 1585.4,1212.7 1578.6,1218.7 1569.4,1218.7 1562.6,1212.7 1562.6,1201.5" fill="#A52A2A"/>
<polygon points="1579.9,1195.5 1589.1,1195.5 1595.9,1201.5 1595.9,1212.7 1589.1,1218.7 1579.9,1218.7 1573.1,1212.7 1573.1,1201.5" fill="#A020F0"/>
<polygon points="1603.4,1195.5 1612.6,1195.5 1619.4,1201.5 1619.4,1212.7 1612.6,1218.7 1603.4,1218.7 1596.6,1212.7 1596.6,1201.5" fill="#90EE90"/>
<polygon points="1604.5,1195.5 1613.7,1195.5 1620.5,1201.5 1620.5,1212.7 1613.7,1218.7 1604.5,1218.7 1597.7,1212.7 1597.7,1201.5" fill="#FF0000"/>
<polygon points="1612.0,1195.5 1621.2,1195.5 1628.0,1201.5 1628.0,1212.7 1621.2,1218.7 1612.0,1218.7 1605.2,1212.7 1605.2,1201.5" fill="#FFA500"/>
<path d="M1368.1 66.2L1363.1 69.6L1358.1 72.9L1353.2 76.3L1348.2 79.7L1343.3 83.1L1338.4 86.5L1333.5 90.0L1328.6 93.4L1323.6 96.9L1318.7 100.3L1313.7 103.6L1308.7 106.8L1303.5 109.7L1298.1 112.2L1292.5 114.3L1286.9 116.3L1281.1 118.1L1275.4 119.7L1269.6 121.2L1263.7 122.4L1257.9 123.3L1252.0 123.6L1246.1 123.3L1240.2 122.6L1234.3 121.6L1228.4 120.3L1222.6 118.8L1217.0 116.9L1211.5 114.5L1206.2 111.9L1200.9 109.1L1195.6 106.3L1190.2 103.6L1184.9 100.9L1179.5 98.2L1174.1 95.7L1168.6 93.1L1163.1 90.7L1157.6 88.5L1151.9 86.5L1146.2 85.0L1140.4 83.9L1134.5 83.3L1128.5 83.2L1122.6 83.4L1116.6 84.0L1110.8 85.0L1105.1 86.6L1099.7 88.8L1094.5 91.5L1089.3 94.5L1084.3 97.6L1079.4 101.0L1075.0 104.9L1070.9 109.1L1067.1 113.7L1063.5 118.5L1060.0 123.4L1056.7 128.4L1053.4 133.4L1050.3 138.5L1047.3 143.7L1044.5 149.0L1042.0 154.4L1039.7 159.9L1037.5 165.5L1035.4 171.1L1033.5 176.8L1031.8 182.6L1030.3 188.3L1029.1 194.2L1028.1 200.1L1027.5 206.0L1027.1 212.0L1027.2 217.9L1027.6 223.9L1028.4 229.8L1029.4 235.7L1030.7 241.5L1032.5 247.2L1034.6 252.8L1037.0 258.2L1039.7 263.6L1042.6 268.8L1045.7 274.0L1048.8 279.1L1052.3 284.0L1056.0 288.6L1060.0 293.0L1064.2 297.3L1068.5 301.5L1072.8 305.6L1077.2 309.7L1081.6 313.8L1086.1 317.8L1090.6 321.7L1095.2 325.6L1099.8 329.4L1104.5 333.2L1109.1 337.1L1113.7 340.9L1118.3 344.7L1123.0 348.5L1127.7 352.2L1132.5 355.9L1137.2 359.5L1142.0 363.1L1146.9 366.6L1151.8 370.1L1156.8 373.5L1161.8 376.8L1166.8 380.0L1171.9 383.2L1177.0 386.4L1182.1 389.5L1187.2 392.7L1192.2 395.9L1197.1 399.4L1201.9 402.9L1206.7 406.5L1211.6 409.8L1216.7 412.9L1221.8 415.9L1226.7 419.1L1231.4 422.7L1235.9 426.7L1240.3 430.7L1244.7 434.9L1249.0 439.0L1253.4 443.2L1257.7 447.3L1262.0 451.4L1266.4 455.6L1270.7 459.8L1275.0 463.9L1279.3 468.1L1283.5 472.4L1287.7 476.7L1291.9 481.0L1296.0 485.3L1300.1 489.7L1304.3 494.0L1308.5 498.3L1312.7 502.6L1316.9 506.8L1321.2 511.1L1325.4 515.4L1329.6 519.7L1333.7 524.0L1337.8 528.4L1341.9 532.8L1346.0 537.2L1350.1 541.5L1354.3 545.8L1358.7 549.9L1363.2 553.8L1367.9 557.5L1372.8 561.0L1377.7 564.5L1382.7 567.7L1387.8 570.9L1393.0 573.8L1398.4 576.3L1403.9 578.4L1409.6 580.1L1415.4 581.5L1421.3 582.5L1427.2 583.1L1433.2 583.3L1439.1 583.0L1445.0 582.4L1450.9 581.3L1456.7 579.9L1462.4 578.1L1467.9 575.9L1473.2 573.3L1478.4 570.4L1483.4 567.1L1488.3 563.6L1492.9 559.9L1497.5 556.0L1502.0 552.1L1506.5 548.1L1511.0 544.2L1515.5 540.2L1520.0 536.2L1524.4 532.1L1528.7 527.9L1532.9 523.7L1537.1 519.4L1541.1 514.9L1545.0 510.4L1548.7 505.7L1552.4 500.9L1555.8 496.0L1559.0 491.0L1562.1 485.8L1565.0 480.6L1567.8 475.3L1570.6 470.0L1573.4 464.7L1576.0 459.3L1578.6 453.9L1581.1 448.4L1583.6 442.9L1586.0 437.4L1588.2 431.9L1590.3 426.3L1592.3 420.6L1594.2 414.9L1596.1 409.2L1598.0 403.5L1599.8 397.8L1601.5 392.1L1603.2 386.3L1604.9 380.5L1606.5 374.7L1608.0 368.9L1609.4 363.1L1610.7 357.3L1611.9 351.4L1613.1 345.5L1614.3 339.6L1615.5 333.7L1616.6 327.8L1617.7 321.9L1618.8 316.0L1619.9 310.1L1621.0 304.2L1622.0 298.3L1623.0 292.4L1623.7 286.5L1624.2 280.5L1624.4 274.5L1624.6 268.5L1624.6 262.5L1624.7 256.5L1624.8 250.5L1624.8 244.5L1624.9 238.5L1624.9 232.5L1624.8 226.5L1624.6 220.5L1624.4 214.5L1624.2 208.5L1623.9 202.6L1623.7 196.6L1623.3 190.6L1622.9 184.6L1622.4 178.6L1621.8 172.6L1621.2 166.7L1620.5 160.7L1619.7 154.8L1618.7 148.9L1617.6 143.0L1616.4 137.1L1615.1 131.2L1613.7 125.4L1612.0 119.6L1610.3 113.9L1608.4 108.2L1606.4 102.6L1604.3 96.9L1602.1 91.4L1599.7 85.9L1597.2 80.4L1594.5 75.1L1591.6 69.9L1588.5 64.8L1586.9 62.2 M1460.7 215.5L1457.4 215.3L1454.0 215.4L1450.6 215.9L1447.2 216.7L1443.8 217.9L1440.4 219.4L1437.1 221.2L1433.9 223.4L1430.8 225.8L1427.7 228.6L1424.7 231.6L1421.9 234.9L1419.2 238.4L1416.6 242.3L1414.2 246.3L1412.0 250.5L1409.9 255.0L1408.0 259.6L1406.3 264.3L1404.7 269.2L1403.4 274.2L1402.3 279.3L1401.4 284.4L1400.7 289.7L1400.3 294.9L1400.0 300.1L1400.0 305.3L1400.2 310.5L1400.7 315.6L1401.3 320.6L1402.2 325.5L1403.3 330.3L1404.6 334.9L1406.1 339.4L1407.7 343.6L1409.6 347.7L1411.7 351.5L1413.9 355.1L1416.3 358.5L1418.9 361.5L1421.6 364.3L1424.4 366.8L1427.3 369.0L1430.4 370.8L1433.5 372.4L1436.7 373.6L1440.0 374.5L1443.4 375.0L1446.7 375.2L1450.1 375.1L1453.5 374.6L1456.9 373.7L1460.3 372.6L1463.7 371.1L1467.0 369.3L1470.2 367.1L1473.3 364.7L1476.4 361.9L1479.4 358.9L1482.2 355.6L1484.9 352.0L1487.5 348.2L1489.9 344.2L1492.2 340.0L1494.2 335.5L1496.1 330.9L1497.9 326.2L1499.4 321.3L1500.7 316.3L1501.8 311.2L1502.7 306.0L1503.4 300.8L1503.8 295.6L1504.1 290.4L1504.1 285.2L1503.9 280.0L1503.4 274.9L1502.8 269.9L1501.9 265.0L1500.8 260.2L1499.5 255.6L1498.1 251.1L1496.4 246.9L1494.5 242.8L1492.4 239.0L1490.2 235.4L1487.8 232.0L1485.2 229.0L1482.5 226.2L1479.7 223.7L1476.8 221.5L1473.7 219.6L1470.6 218.1L1467.4 216.9L1464.1 216.0L1460.7 215.5 M966.9 1205.0L967.2 1199.0L967.4 1193.0L967.7 1187.0L968.1 1181.0L968.5 1175.0L969.1 1169.0L969.7 1163.0L970.5 1157.1L971.6 1151.2L972.8 1145.3L974.3 1139.5L975.8 1133.7L977.4 1127.9L979.1 1122.1L980.9 1116.4L982.8 1110.7L984.7 1105.0L986.8 1099.4L989.0 1093.8L991.3 1088.2L993.7 1082.7L996.1 1077.2L998.5 1071.7L1001.1 1066.3L1003.8 1060.9L1006.7 1055.7L1009.8 1050.6L1013.2 1045.6L1016.7 1040.8L1020.5 1036.1L1024.3 1031.5L1028.3 1027.0L1032.4 1022.6L1036.5 1018.3L1040.8 1014.0L1045.2 1009.9L1049.6 1005.8L1054.0 1001.7L1058.3 997.6L1062.6 993.4L1066.9 989.1L1071.2 984.9L1075.5 980.8L1080.0 976.8L1084.6 973.0L1089.4 969.4L1094.3 965.9L1099.3 962.6L1104.4 959.4L1109.6 956.5L1114.9 953.6L1120.2 950.8L1125.4 947.9L1130.5 944.8L1135.5 941.5L1140.5 938.2L1145.6 935.0L1150.8 931.9L1156.1 929.0L1161.3 926.2L1166.6 923.3L1171.9 920.4L1177.1 917.4L1182.2 914.3L1187.4 911.2L1192.5 908.0L1197.6 904.9L1202.9 902.0L1208.1 899.1L1213.5 896.5L1218.9 893.9L1224.3 891.2L1229.5 888.3L1234.5 885.1L1239.3 881.7L1244.2 878.3L1249.2 875.3L1254.4 872.7L1259.7 870.0L1264.8 867.1L1269.8 863.9L1274.8 860.6L1279.8 857.2L1284.9 853.9L1289.9 850.6L1294.9 847.4L1300.0 844.2L1305.1 841.0L1310.3 838.0L1315.6 835.1L1320.8 832.2L1326.1 829.3L1331.5 826.5L1336.8 823.9L1342.3 821.3L1347.7 818.8L1353.2 816.4L1358.8 814.2L1364.4 812.1L1370.1 810.2L1375.8 808.3L1381.6 806.5L1387.3 804.7L1393.1 803.2L1398.9 802.1L1404.8 801.4L1410.8 801.1L1416.8 801.0L1422.8 801.0L1428.8 801.0L1434.8 801.0L1440.8 801.0L1446.8 801.0L1452.8 801.0L1458.8 801.1L1464.8 801.4L1470.8 802.0L1476.7 802.8L1482.6 803.9L1488.5 805.2L1494.3 806.7L1500.1 808.3L1505.8 809.9L1511.6 811.7L1517.3 813.5L1523.0 815.4L1528.7 817.4L1534.4 819.4L1540.0 821.4L1545.7 823.5L1551.3 825.6L1557.0 827.6L1562.7 829.5L1568.3 831.5L1574.0 833.4L1579.7 835.3L1585.4 837.3L1591.0 839.5L1596.5 841.8L1602.0 844.3L1607.4 847.0L1612.7 849.7L1618.1 852.4L1620.8 853.7 M1061.8 1205.0L1062.2 1199.0L1062.7 1193.0L1063.1 1187.0L1063.7 1181.0L1064.4 1175.0L1065.4 1169.1L1066.5 1163.2L1067.8 1157.3L1069.3 1151.5L1070.8 1145.7L1072.6 1140.0L1074.7 1134.3L1076.9 1128.7L1079.4 1123.3L1082.1 1117.9L1085.0 1112.7L1088.1 1107.5L1091.4 1102.5L1094.8 1097.5L1098.3 1092.7L1102.1 1088.0L1106.0 1083.4L1110.0 1078.9L1114.0 1074.5L1118.2 1070.1L1122.5 1065.9L1126.8 1061.7L1131.3 1057.8L1136.0 1053.9L1140.6 1050.1L1145.3 1046.3L1149.8 1042.3L1154.2 1038.3L1158.6 1034.2L1163.2 1030.3L1167.9 1026.6L1172.8 1023.1L1177.8 1019.7L1182.8 1016.5L1187.9 1013.2L1193.0 1010.0L1198.1 1006.9L1203.3 1003.8L1208.5 1000.8L1213.8 997.9L1219.0 994.9L1224.3 992.0L1229.6 989.1L1234.9 986.2L1240.2 983.4L1245.4 980.5L1250.5 977.4L1255.4 973.9L1260.1 970.2L1264.8 966.5L1269.6 962.9L1274.6 959.7L1279.8 956.7L1285.2 954.0L1290.5 951.2L1295.8 948.4L1301.1 945.4L1306.2 942.4L1311.4 939.3L1316.7 936.3L1322.0 933.6L1327.4 930.9L1332.8 928.3L1338.3 925.7L1343.7 923.1L1349.1 920.5L1354.5 917.9L1360.0 915.4L1365.5 913.1L1371.1 910.8L1376.7 908.6L1382.4 906.4L1388.0 904.3L1393.6 902.2L1399.3 900.3L1405.1 898.7L1410.9 897.2L1416.8 895.9L1422.7 894.6L1428.6 893.4L1434.5 892.3L1440.4 891.2L1446.4 890.2L1452.3 889.4L1458.3 888.8L1464.3 888.5L1470.3 888.3L1476.3 888.3L1482.3 888.3L1488.3 888.3L1494.4 888.3L1500.4 888.3L1506.4 888.3L1512.4 888.4L1518.4 888.6L1524.4 889.1L1530.4 889.8L1536.3 890.8L1542.2 891.9L1548.1 893.3L1553.9 894.8L1559.7 896.5L1565.4 898.2L1571.2 900.0L1576.9 901.9L1582.5 904.1L1588.0 906.4L1593.5 908.8L1599.0 911.4L1604.4 913.9L1609.9 916.5L1615.3 919.0L1620.8 921.6 M1151.9 1205.0L1152.2 1199.0L1152.5 1193.0L1152.9 1187.0L1153.5 1181.0L1154.5 1175.1L1155.9 1169.3L1157.6 1163.5L1159.5 1157.9L1161.7 1152.3L1164.3 1146.8L1167.1 1141.5L1170.1 1136.4L1173.4 1131.4L1177.0 1126.5L1180.6 1121.8L1184.6 1117.2L1188.7 1112.9L1193.1 1108.8L1197.6 1104.8L1202.0 1100.7L1206.3 1096.5L1210.7 1092.3L1214.9 1088.1L1219.2 1083.8L1223.4 1079.5L1227.6 1075.2L1231.8 1070.9L1236.0 1066.6L1240.4 1062.5L1245.1 1058.7L1249.9 1055.1L1254.7 1051.6L1259.6 1048.0L1264.3 1044.4L1269.1 1040.6L1273.7 1036.8L1278.4 1033.0L1283.0 1029.1L1287.6 1025.3L1292.3 1021.5L1297.1 1017.8L1302.0 1014.3L1307.0 1011.0L1312.1 1007.8L1317.3 1004.9L1322.6 1002.1L1327.9 999.3L1333.0 996.3L1337.8 992.9L1342.4 989.1L1347.0 985.4L1351.8 982.0L1357.0 979.2L1362.4 976.9L1367.8 974.5L1373.2 971.9L1378.4 969.0L1383.6 965.9L1388.8 962.8L1394.0 959.9L1399.3 957.2L1404.8 954.9L1410.5 952.9L1416.2 951.1L1422.0 949.5L1427.8 947.9L1433.6 946.3L1439.5 944.7L1445.3 943.3L1451.2 941.9L1457.1 940.6L1463.0 939.5L1468.9 938.6L1474.9 937.8L1480.9 937.3L1486.9 937.0L1492.9 936.8L1498.9 936.8L1504.9 936.8L1511.0 936.8L1517.0 936.8L1523.0 936.9L1529.0 937.3L1534.9 938.0L1540.7 939.1L1546.5 940.6L1552.3 942.3L1558.0 944.2L1563.7 946.1L1569.4 948.2L1575.1 950.2L1580.7 952.3L1586.3 954.6L1591.8 957.0L1597.2 959.6L1602.3 962.6L1607.3 966.0L1612.0 969.7L1616.5 973.7L1620.8 977.8 M1243.3 1205.0L1244.0 1199.0L1244.8 1193.1L1245.6 1187.2L1246.7 1181.3L1247.9 1175.4L1249.2 1169.5L1250.7 1163.7L1252.4 1158.0L1254.3 1152.3L1256.6 1146.8L1259.2 1141.5L1262.3 1136.4L1265.8 1131.6L1269.4 1126.8L1273.1 1122.1L1276.8 1117.4L1280.4 1112.6L1284.0 1107.8L1287.7 1103.1L1291.6 1098.6L1295.7 1094.2L1299.9 1089.9L1304.1 1085.6L1308.3 1081.3L1312.6 1077.1L1316.8 1072.8L1321.0 1068.5L1325.1 1064.2L1329.4 1059.9L1333.7 1055.7L1338.1 1051.6L1342.5 1047.7L1347.1 1043.8L1351.7 1039.9L1356.4 1036.2L1361.2 1032.6L1366.2 1029.2L1371.2 1025.9L1376.2 1022.6L1381.2 1019.3L1386.2 1016.1L1391.3 1012.8L1396.3 1009.6L1401.5 1006.7L1406.8 1003.9L1412.2 1001.2L1417.7 998.7L1423.1 996.2L1428.6 993.7L1434.0 991.2L1439.5 988.8L1445.1 986.7L1450.8 984.7L1456.5 983.0L1462.3 981.5L1468.1 980.1L1474.0 978.8L1479.9 977.8L1485.8 976.9L1491.8 976.3L1497.8 975.8L1503.7 975.6L1509.7 975.5L1515.7 975.5L1521.7 975.6L1527.7 975.9L1533.6 976.5L1539.5 977.5L1545.3 978.9L1551.0 980.6L1556.8 982.3L1562.4 984.2L1568.0 986.3L1573.5 988.7L1578.8 991.4L1584.1 994.2L1589.3 997.2L1594.5 1000.3L1599.6 1003.5L1604.5 1006.8L1609.3 1010.4L1614.0 1014.1L1618.5 1018.0L1620.8 1020.0 M1310.5 1205.0L1311.3 1199.0L1312.1 1193.0L1312.9 1187.1L1313.7 1181.1L1314.6 1175.1L1315.6 1169.2L1316.8 1163.3L1318.3 1157.5L1320.0 1151.7L1321.9 1146.0L1324.0 1140.4L1326.3 1134.9L1329.1 1129.5L1332.2 1124.4L1335.6 1119.4L1339.1 1114.6L1342.8 1109.8L1346.7 1105.2L1350.6 1100.7L1354.7 1096.2L1358.7 1091.7L1362.8 1087.3L1367.0 1082.9L1371.2 1078.7L1375.5 1074.4L1379.9 1070.2L1384.2 1066.1L1388.7 1062.0L1393.2 1058.0L1397.7 1054.1L1402.4 1050.2L1407.2 1046.5L1412.0 1043.0L1417.0 1039.5L1422.0 1036.2L1427.1 1033.1L1432.3 1030.1L1437.7 1027.4L1443.2 1024.9L1448.8 1022.7L1454.5 1020.8L1460.2 1019.0L1466.0 1017.4L1471.9 1016.0L1477.8 1014.8L1483.7 1013.8L1489.7 1012.9L1495.6 1012.2L1501.6 1011.9L1507.7 1011.8L1513.7 1011.7L1519.7 1011.8L1525.7 1012.0L1531.6 1012.5L1537.5 1013.6L1543.3 1015.1L1549.0 1017.0L1554.6 1019.1L1560.2 1021.3L1565.8 1023.6L1571.2 1026.1L1576.6 1028.8L1581.9 1031.6L1587.1 1034.7L1592.1 1038.0L1597.0 1041.5L1601.7 1045.2L1606.2 1049.2L1610.4 1053.5L1614.6 1057.8L1618.7 1062.2L1620.8 1064.4 M1363.2 1205.0L1363.7 1199.0L1364.1 1193.0L1364.6 1186.9L1365.2 1180.9L1366.0 1175.0L1367.1 1169.1L1368.5 1163.2L1370.1 1157.4L1372.0 1151.7L1374.2 1146.1L1376.8 1140.7L1379.6 1135.4L1382.6 1130.2L1385.6 1125.0L1388.8 1119.8L1392.2 1114.9L1395.8 1110.1L1399.7 1105.5L1403.7 1101.0L1407.9 1096.6L1412.2 1092.4L1416.6 1088.3L1421.2 1084.4L1425.7 1080.4L1430.4 1076.6L1435.1 1072.8L1440.0 1069.3L1445.0 1066.1L1450.3 1063.2L1455.6 1060.4L1461.1 1057.9L1466.6 1055.6L1472.3 1053.6L1478.1 1051.9L1483.9 1050.5L1489.8 1049.2L1495.7 1048.0L1501.7 1047.0L1507.6 1046.2L1513.6 1045.7L1519.6 1045.5L1525.6 1045.9L1531.5 1046.6L1537.4 1047.6L1543.2 1049.1L1548.8 1051.1L1554.3 1053.5L1559.7 1056.2L1565.0 1059.0L1570.2 1062.1L1575.3 1065.3L1580.3 1068.7L1585.2 1072.2L1589.9 1075.9L1594.5 1079.7L1598.9 1083.8L1603.1 1088.1L1607.0 1092.7L1610.5 1097.6L1613.6 1102.7L1616.5 1107.9L1619.4 1113.2L1620.8 1115.9 M1405.4 1205.0L1405.7 1199.0L1406.0 1192.9L1406.4 1186.9L1406.9 1180.9L1407.8 1175.0L1409.0 1169.1L1410.5 1163.3L1412.3 1157.6L1414.6 1152.0L1417.3 1146.7L1420.4 1141.5L1423.8 1136.6L1427.5 1131.8L1431.4 1127.3L1435.5 1122.9L1439.9 1118.7L1444.3 1114.6L1449.0 1110.8L1453.8 1107.1L1458.7 1103.6L1463.7 1100.3L1468.7 1097.0L1473.9 1093.8L1479.1 1090.9L1484.5 1088.6L1490.2 1086.7L1496.0 1085.3L1501.9 1084.0L1507.8 1083.1L1513.7 1082.5L1519.6 1082.5L1525.5 1083.1L1531.4 1084.3L1537.2 1085.8L1542.9 1087.7L1548.5 1089.9L1553.9 1092.4L1559.2 1095.3L1564.3 1098.4L1569.2 1101.9L1573.8 1105.7L1578.2 1109.8L1582.5 1114.1L1586.5 1118.5L1590.3 1123.1L1593.8 1128.0L1597.0 1133.1L1600.0 1138.3L1602.8 1143.6L1605.3 1149.1L1607.5 1154.7L1609.5 1160.4L1611.1 1166.2L1612.4 1172.0L1613.4 1178.0L1614.1 1184.0L1614.7 1190.0L1615.3 1196.0L1615.9 1202.0L1616.2 1205.0 M1451.1 1205.0L1451.4 1199.0L1451.8 1193.0L1452.3 1187.0L1453.4 1181.2L1455.0 1175.5L1457.1 1170.0L1459.7 1164.6L1462.6 1159.3L1465.9 1154.3L1469.4 1149.5L1473.3 1145.0L1477.4 1140.8L1482.0 1137.2L1487.0 1134.0L1492.3 1131.4L1497.8 1129.2L1503.5 1127.7L1509.3 1126.9L1515.3 1126.6L1521.3 1126.6L1527.2 1126.8L1533.1 1127.6L1538.7 1129.0L1544.2 1131.2L1549.4 1133.9L1554.6 1137.0L1559.5 1140.4L1564.1 1144.2L1568.1 1148.4L1571.6 1153.1L1574.3 1158.2L1576.5 1163.8L1578.2 1169.5L1579.5 1175.3L1580.6 1181.2L1581.6 1187.2L1582.6 1193.1L1583.6 1199.0L1584.5 1205.0" stroke="#2E60FF" stroke-width="3.5" fill="none" stroke-linejoin="round"/>
<path d="M1054.9 10.8V1256.9M427.0 635.5H1676.6" stroke="#000000" stroke-width="4.5" fill="none"/>
<path d="M422.9 6.8H1683.6V1263.8H422.9Z M427.0 10.8V1256.9H1676.6V10.8Z" fill="#000000" fill-rule="evenodd"/>
</g>
<path d="M483.3 1263.8V1273.4M768.5 1263.8V1273.4M1054.8 1263.8V1273.4M1337.3 1263.8V1273.4M1623.0 1263.8V1273.4M413.2 1207.1H422.9M413.2 921.0H422.9M413.2 634.9H422.9M413.2 349.4H422.9M413.2 63.8H422.9" stroke="#333333" stroke-width="3.6" fill="none"/>
<text transform="translate(480.3 1316.6) scale(1.015 1.120)" font-family="'Liberation Sans', sans-serif" font-size="35" fill="#4D4D4D" stroke="#4D4D4D" stroke-width="0.5" stroke-linejoin="round" text-anchor="middle">0.00</text>
<text transform="translate(404.2 1225.1) scale(1.015 1.120)" font-family="'Liberation Sans', sans-serif" font-size="35" fill="#4D4D4D" stroke="#4D4D4D" stroke-width="0.5" stroke-linejoin="round" text-anchor="end">0.00</text>
<text transform="translate(765.5 1316.6) scale(1.015 1.120)" font-family="'Liberation Sans', sans-serif" font-size="35" fill="#4D4D4D" stroke="#4D4D4D" stroke-width="0.5" stroke-linejoin="round" text-anchor="middle">0.25</text>
<text transform="translate(404.2 939.0) scale(1.015 1.120)" font-family="'Liberation Sans', sans-serif" font-size="35" fill="#4D4D4D" stroke="#4D4D4D" stroke-width="0.5" stroke-linejoin="round" text-anchor="end">0.25</text>
<text transform="translate(1051.8 1316.6) scale(1.015 1.120)" font-family="'Liberation Sans', sans-serif" font-size="35" fill="#4D4D4D" stroke="#4D4D4D" stroke-width="0.5" stroke-linejoin="round" text-anchor="middle">0.50</text>
<text transform="translate(404.2 652.9) scale(1.015 1.120)" font-family="'Liberation Sans', sans-serif" font-size="35" fill="#4D4D4D" stroke="#4D4D4D" stroke-width="0.5" stroke-linejoin="round" text-anchor="end">0.50</text>
<text transform="translate(1334.3 1316.6) scale(1.015 1.120)" font-family="'Liberation Sans', sans-serif" font-size="35" fill="#4D4D4D" stroke="#4D4D4D" stroke-width="0.5" stroke-linejoin="round" text-anchor="middle">0.75</text>
<text transform="translate(404.2 367.4) scale(1.015 1.120)" font-family="'Liberation Sans', sans-serif" font-size="35" fill="#4D4D4D" stroke="#4D4D4D" stroke-width="0.5" stroke-linejoin="round" text-anchor="end">0.75</text>
<text transform="translate(1620.0 1316.6) scale(1.015 1.120)" font-family="'Liberation Sans', sans-serif" font-size="35" fill="#4D4D4D" stroke="#4D4D4D" stroke-width="0.5" stroke-linejoin="round" text-anchor="middle">1.00</text>
<text transform="translate(404.2 81.8) scale(1.015 1.120)" font-family="'Liberation Sans', sans-serif" font-size="35" fill="#4D4D4D" stroke="#4D4D4D" stroke-width="0.5" stroke-linejoin="round" text-anchor="end">1.00</text>
<text transform="translate(1050.3 1419.2) scale(0.989 1.100)" font-family="'Liberation Sans', sans-serif" font-size="44" font-weight="bold" fill="#000000" stroke="#000000" stroke-width="0.35" stroke-linejoin="round" text-anchor="middle">Within-skill Variability</text>
<text transform="translate(280.8 634.0) rotate(-90) scale(0.967 1.110)" font-family="'Liberation Sans', sans-serif" font-size="44" font-weight="bold" fill="#000000" stroke="#000000" stroke-width="0.35" stroke-linejoin="round" text-anchor="middle">Between-skill Variability</text>
<text transform="translate(1750.2 309.3) scale(1.015 1.070)" font-family="'Liberation Sans', sans-serif" font-size="47" fill="#000000" stroke="#000000" stroke-width="0.5" stroke-linejoin="round" text-anchor="start">Player</text>
<rect x="1754.7" y="325.5" width="74.8" height="70.5" fill="#F2F2F2"/>
<path d="M1761.2 362.7H1820.2" stroke="#FF0000" stroke-width="4" fill="none"/>
<polygon points="1786.9,351.1 1796.1,351.1 1802.9,357.1 1802.9,368.3 1796.1,374.3 1786.9,374.3 1780.1,368.3 1780.1,357.1" fill="#FF0000"/>
<text transform="translate(1833.4 380.6) scale(0.980 1.050)" font-family="'Liberation Sans', sans-serif" font-size="40" fill="#000000" stroke="#000000" stroke-width="0.5" stroke-linejoin="round" text-anchor="start">F1</text>
<rect x="1754.7" y="400.7" width="74.8" height="72.6" fill="#F2F2F2"/>
<path d="M1761.2 437.4H1820.2" stroke="#FFA500" stroke-width="4" fill="none"/>
<polygon points="1786.9,425.8 1796.1,425.8 1802.9,431.8 1802.9,443.0 1796.1,449.0 1786.9,449.0 1780.1,443.0 1780.1,431.8" fill="#FFA500"/>
<text transform="translate(1833.4 455.3) scale(0.980 1.050)" font-family="'Liberation Sans', sans-serif" font-size="40" fill="#000000" stroke="#000000" stroke-width="0.5" stroke-linejoin="round" text-anchor="start">F2</text>
<rect x="1754.7" y="478.0" width="74.8" height="70.5" fill="#F2F2F2"/>
<path d="M1761.2 512.1H1820.2" stroke="#FFFF00" stroke-width="4" fill="none"/>
<polygon points="1786.9,500.5 1796.1,500.5 1802.9,506.5 1802.9,517.7 1796.1,523.7 1786.9,523.7 1780.1,517.7 1780.1,506.5" fill="#FFFF00"/>
<text transform="translate(1833.4 530.0) scale(0.980 1.050)" font-family="'Liberation Sans', sans-serif" font-size="40" fill="#000000" stroke="#000000" stroke-width="0.5" stroke-linejoin="round" text-anchor="start">M1</text>
<rect x="1754.7" y="553.0" width="74.8" height="70.3" fill="#F2F2F2"/>
<path d="M1761.2 586.8H1820.2" stroke="#90EE90" stroke-width="4" fill="none"/>
<polygon points="1786.9,575.2 1796.1,575.2 1802.9,581.2 1802.9,592.4 1796.1,598.4 1786.9,598.4 1780.1,592.4 1780.1,581.2" fill="#90EE90"/>
<text transform="translate(1833.4 604.7) scale(0.980 1.050)" font-family="'Liberation Sans', sans-serif" font-size="40" fill="#000000" stroke="#000000" stroke-width="0.5" stroke-linejoin="round" text-anchor="start">M2</text>
<rect x="1754.7" y="628.0" width="74.8" height="69.7" fill="#F2F2F2"/>
<path d="M1761.2 661.5H1820.2" stroke="#00FF00" stroke-width="4" fill="none"/>
<polygon points="1786.9,649.9 1796.1,649.9 1802.9,655.9 1802.9,667.1 1796.1,673.1 1786.9,673.1 1780.1,667.1 1780.1,655.9" fill="#00FF00"/>
<text transform="translate(1833.4 679.4) scale(0.980 1.050)" font-family="'Liberation Sans', sans-serif" font-size="40" fill="#000000" stroke="#000000" stroke-width="0.5" stroke-linejoin="round" text-anchor="start">M3</text>
<rect x="1754.7" y="703.0" width="74.8" height="69.5" fill="#F2F2F2"/>
<path d="M1761.2 736.2H1820.2" stroke="#A52A2A" stroke-width="4" fill="none"/>
<polygon points="1786.9,724.6 1796.1,724.6 1802.9,730.6 1802.9,741.8 1796.1,747.8 1786.9,747.8 1780.1,741.8 1780.1,730.6" fill="#A52A2A"/>
<text transform="translate(1833.4 754.1) scale(0.980 1.050)" font-family="'Liberation Sans', sans-serif" font-size="40" fill="#000000" stroke="#000000" stroke-width="0.5" stroke-linejoin="round" text-anchor="start">M4</text>
<rect x="1754.7" y="777.5" width="74.8" height="69.9" fill="#F2F2F2"/>
<path d="M1761.2 810.9H1820.2" stroke="#ADD8E6" stroke-width="4" fill="none"/>
<polygon points="1786.9,799.3 1796.1,799.3 1802.9,805.3 1802.9,816.5 1796.1,822.5 1786.9,822.5 1780.1,816.5 1780.1,805.3" fill="#ADD8E6"/>
<text transform="translate(1833.4 828.8) scale(0.980 1.050)" font-family="'Liberation Sans', sans-serif" font-size="40" fill="#000000" stroke="#000000" stroke-width="0.5" stroke-linejoin="round" text-anchor="start">M5</text>
<rect x="1754.7" y="852.0" width="74.8" height="70.2" fill="#F2F2F2"/>
<path d="M1761.2 885.6H1820.2" stroke="#0000FF" stroke-width="4" fill="none"/>
<polygon points="1786.9,874.0 1796.1,874.0 1802.9,880.0 1802.9,891.2 1796.1,897.2 1786.9,897.2 1780.1,891.2 1780.1,880.0" fill="#0000FF"/>
<text transform="translate(1833.4 903.5) scale(0.980 1.050)" font-family="'Liberation Sans', sans-serif" font-size="40" fill="#000000" stroke="#000000" stroke-width="0.5" stroke-linejoin="round" text-anchor="start">M6</text>
<rect x="1754.7" y="926.8" width="74.8" height="70.2" fill="#F2F2F2"/>
<path d="M1761.2 960.3H1820.2" stroke="#A020F0" stroke-width="4" fill="none"/>
<polygon points="1786.9,948.7 1796.1,948.7 1802.9,954.7 1802.9,965.9 1796.1,971.9 1786.9,971.9 1780.1,965.9 1780.1,954.7" fill="#A020F0"/>
<text transform="translate(1833.4 978.2) scale(0.980 1.050)" font-family="'Liberation Sans', sans-serif" font-size="40" fill="#000000" stroke="#000000" stroke-width="0.5" stroke-linejoin="round" text-anchor="start">M7</text>
<g id="panelB">
<rect x="218.6" y="1715.5" width="1753.6" height="606.5" fill="#EBEBEB"/>
<path d="M333.9 1715.5V2322.0M525.3 1715.5V2322.0M716.8 1715.5V2322.0M908.5 1715.5V2322.0M1096.8 1715.5V2322.0M1288.7 1715.5V2322.0M1480.2 1715.5V2322.0M1668.6 1715.5V2322.0M1860.3 1715.5V2322.0M218.6 2295.0H1972.2M218.6 2226.0H1972.2M218.6 2157.5H1972.2M218.6 2089.0H1972.2M218.6 2018.6H1972.2M218.6 1950.8H1972.2M218.6 1882.3H1972.2M218.6 1814.2H1972.2M218.6 1743.0H1972.2" stroke="#FFFFFF" stroke-width="4.4" fill="none"/>
<path d="M239.4 2295.0H429.3 M429.3 2295.0H619.2 M619.2 2073.9H811.0V2295.0H619.2Z M811.0 1931.4H1002.6V2295.0H811.0Z M1002.6 1931.4H1194.3V2295.0H1002.6Z M1194.3 1854.1H1383.0V2295.0H1194.3Z M1383.0 1827.9H1574.6V2295.0H1383.0Z M1574.6 1742.5H1766.5V2295.0H1574.6Z M1766.5 1742.5H1957.6V2295.0H1766.5Z" fill="none" stroke="#FFFFFF" stroke-width="11" stroke-linejoin="miter"/>
<path d="M239.4 2295.0H429.3" fill="none" stroke="#000000" stroke-width="4.2" stroke-linejoin="miter"/>
<path d="M429.3 2295.0H619.2" fill="none" stroke="#000000" stroke-width="4.2" stroke-linejoin="miter"/>
<path d="M619.2 2073.9H811.0V2295.0H619.2Z" fill="#FFFF00" stroke="#000000" stroke-width="4.2" stroke-linejoin="miter"/>
<path d="M811.0 1931.4H1002.6V2295.0H811.0Z" fill="#90EE90" stroke="#000000" stroke-width="4.2" stroke-linejoin="miter"/>
<path d="M1002.6 1931.4H1194.3V2295.0H1002.6Z" fill="#00FF00" stroke="#000000" stroke-width="4.2" stroke-linejoin="miter"/>
<path d="M1194.3 1854.1H1383.0V2295.0H1194.3Z" fill="#A52A2A" stroke="#000000" stroke-width="4.2" stroke-linejoin="miter"/>
<path d="M1383.0 1827.9H1574.6V2295.0H1383.0Z" fill="#ADD8E6" stroke="#000000" stroke-width="4.2" stroke-linejoin="miter"/>
<path d="M1574.6 1742.5H1766.5V2295.0H1574.6Z" fill="#0000FF" stroke="#000000" stroke-width="4.2" stroke-linejoin="miter"/>
<path d="M1766.5 1742.5H1957.6V2295.0H1766.5Z" fill="#A020F0" stroke="#000000" stroke-width="4.2" stroke-linejoin="miter"/>
</g>
<path d="M333.9 2322.3V2335.8M525.3 2322.3V2335.8M716.8 2322.3V2335.8M908.5 2322.3V2335.8M1096.8 2322.3V2335.8M1288.7 2322.3V2335.8M1480.2 2322.3V2335.8M1668.6 2322.3V2335.8M1860.3 2322.3V2335.8M208.5 2295.0H218.3M208.5 2157.5H218.3M208.5 2018.6H218.3M208.5 1882.3H218.3M208.5 1743.0H218.3" stroke="#333333" stroke-width="3.6" fill="none"/>
<text transform="translate(332.4 2377.6) scale(0.990 1.080)" font-family="'Liberation Sans', sans-serif" font-size="35" fill="#4D4D4D" stroke="#4D4D4D" stroke-width="0.5" stroke-linejoin="round" text-anchor="middle">M1</text>
<text transform="translate(523.8 2377.6) scale(0.990 1.080)" font-family="'Liberation Sans', sans-serif" font-size="35" fill="#4D4D4D" stroke="#4D4D4D" stroke-width="0.5" stroke-linejoin="round" text-anchor="middle">M2</text>
<text transform="translate(715.3 2377.6) scale(0.990 1.080)" font-family="'Liberation Sans', sans-serif" font-size="35" fill="#4D4D4D" stroke="#4D4D4D" stroke-width="0.5" stroke-linejoin="round" text-anchor="middle">M3</text>
<text transform="translate(907.0 2377.6) scale(0.990 1.080)" font-family="'Liberation Sans', sans-serif" font-size="35" fill="#4D4D4D" stroke="#4D4D4D" stroke-width="0.5" stroke-linejoin="round" text-anchor="middle">F1</text>
<text transform="translate(1095.3 2377.6) scale(0.990 1.080)" font-family="'Liberation Sans', sans-serif" font-size="35" fill="#4D4D4D" stroke="#4D4D4D" stroke-width="0.5" stroke-linejoin="round" text-anchor="middle">M4</text>
<text transform="translate(1287.2 2377.6) scale(0.990 1.080)" font-family="'Liberation Sans', sans-serif" font-size="35" fill="#4D4D4D" stroke="#4D4D4D" stroke-width="0.5" stroke-linejoin="round" text-anchor="middle">F2</text>
<text transform="translate(1478.7 2377.6) scale(0.990 1.080)" font-family="'Liberation Sans', sans-serif" font-size="35" fill="#4D4D4D" stroke="#4D4D4D" stroke-width="0.5" stroke-linejoin="round" text-anchor="middle">M5</text>
<text transform="translate(1667.1 2377.6) scale(0.990 1.080)" font-family="'Liberation Sans', sans-serif" font-size="35" fill="#4D4D4D" stroke="#4D4D4D" stroke-width="0.5" stroke-linejoin="round" text-anchor="middle">M6</text>
<text transform="translate(1858.8 2377.6) scale(0.990 1.080)" font-family="'Liberation Sans', sans-serif" font-size="35" fill="#4D4D4D" stroke="#4D4D4D" stroke-width="0.5" stroke-linejoin="round" text-anchor="middle">M7</text>
<text transform="translate(198.6 2313.2) scale(1.015 1.120)" font-family="'Liberation Sans', sans-serif" font-size="35" fill="#4D4D4D" stroke="#4D4D4D" stroke-width="0.5" stroke-linejoin="round" text-anchor="end">0</text>
<text transform="translate(198.6 2175.7) scale(1.015 1.120)" font-family="'Liberation Sans', sans-serif" font-size="35" fill="#4D4D4D" stroke="#4D4D4D" stroke-width="0.5" stroke-linejoin="round" text-anchor="end">25</text>
<text transform="translate(198.6 2036.8) scale(1.015 1.120)" font-family="'Liberation Sans', sans-serif" font-size="35" fill="#4D4D4D" stroke="#4D4D4D" stroke-width="0.5" stroke-linejoin="round" text-anchor="end">50</text>
<text transform="translate(198.6 1900.5) scale(1.015 1.120)" font-family="'Liberation Sans', sans-serif" font-size="35" fill="#4D4D4D" stroke="#4D4D4D" stroke-width="0.5" stroke-linejoin="round" text-anchor="end">75</text>
<text transform="translate(198.6 1761.2) scale(1.015 1.120)" font-family="'Liberation Sans', sans-serif" font-size="35" fill="#4D4D4D" stroke="#4D4D4D" stroke-width="0.5" stroke-linejoin="round" text-anchor="end">100</text>
<text transform="translate(1094.8 2481.6) scale(1.018 1.060)" font-family="'Liberation Sans', sans-serif" font-size="44" font-weight="bold" fill="#000000" stroke="#000000" stroke-width="0.35" stroke-linejoin="round" text-anchor="middle">Player</text>
<text transform="translate(43.0 2017.1) rotate(-90) scale(0.964 1.100)" font-family="'Liberation Sans', sans-serif" font-size="44" font-weight="bold" fill="#000000" stroke="#000000" stroke-width="0.35" stroke-linejoin="round" text-anchor="middle">Percentage of drills with zero</text>
<text transform="translate(92.0 2010.6) rotate(-90) scale(0.961 1.100)" font-family="'Liberation Sans', sans-serif" font-size="44" font-weight="bold" fill="#000000" stroke="#000000" stroke-width="0.35" stroke-linejoin="round" text-anchor="middle">between-skill variability (%)</text>
</svg>
<svg id="labels" width="1981" height="2500" viewBox="0 0 1981 2500">
<text transform="translate(39.2 69.9) scale(1.060 1.080)" font-family="'Liberation Sans', sans-serif" font-size="43" font-weight="bold" fill="#000000" text-anchor="start">A</text>
<text transform="translate(36.6 1585.8) scale(1.000 1.080)" font-family="'Liberation Sans', sans-serif" font-size="43" font-weight="bold" fill="#000000" text-anchor="start">B</text>
</svg>
</div>
</body>
</html>
